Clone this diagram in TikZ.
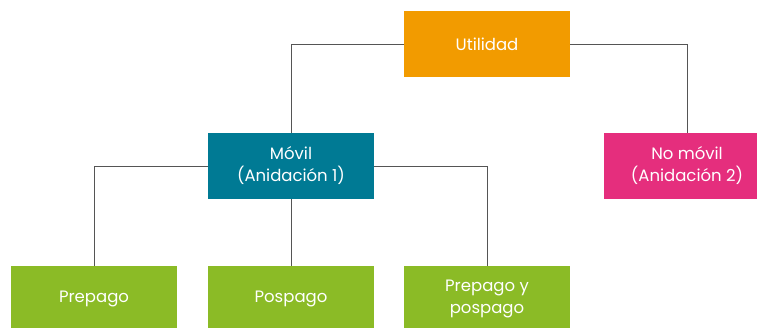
\documentclass[tikz,border=0pt]{standalone}
\usepackage{fontspec}
\setmainfont{Poppins}
\usepackage{tikz}
\definecolor{naranja}{HTML}{F29B00}
\definecolor{azul}{HTML}{007A94}
\definecolor{rosa}{HTML}{E52E7D}
\definecolor{verde}{HTML}{8BBB26}
\definecolor{linea}{HTML}{555555}

\begin{document}
\begin{tikzpicture}[x=1pt, y=-1pt,
		caja/.style={rectangle, minimum width=166pt, minimum height=66pt, inner sep=0pt,
			text=white, align=center, font=\fontsize{16.5}{22}\selectfont},
		raiz/.style={caja, fill=naranja},
		nivel1/.style={caja, fill=azul},
		nivel2/.style={caja, fill=rosa},
		hoja/.style={caja, fill=verde},
		rama/.style={draw=linea, line width=0.8pt}]
		\useasboundingbox (0,0) rectangle (757,328);
		\clip (0,0) rectangle (757,328);
		\node[raiz] (1) at (487,44) {Utilidad};
		\node[nivel1] (2) at (291,166) {Móvil\\(Anidación 1)};
		\node[nivel2] (3) at (687,166) {No móvil\\(Anidación 2)};
		\node[hoja] (4) at (94,299) {Prepago};
		\node[hoja] (5) at (291,299) {Pospago};
		\node[hoja] (6) at (487,299) {Prepago y\\pospago};
		
		\draw[rama] (1.west) -| (2.north);
		\draw[rama] (1.east) -| (3.north);
		\draw[rama] (2.west) -| (4.north);
		\draw[rama] (2.south) -- (5.north);
		\draw[rama] (2.east) -| (6.north);
		
	\end{tikzpicture}
\end{document}
